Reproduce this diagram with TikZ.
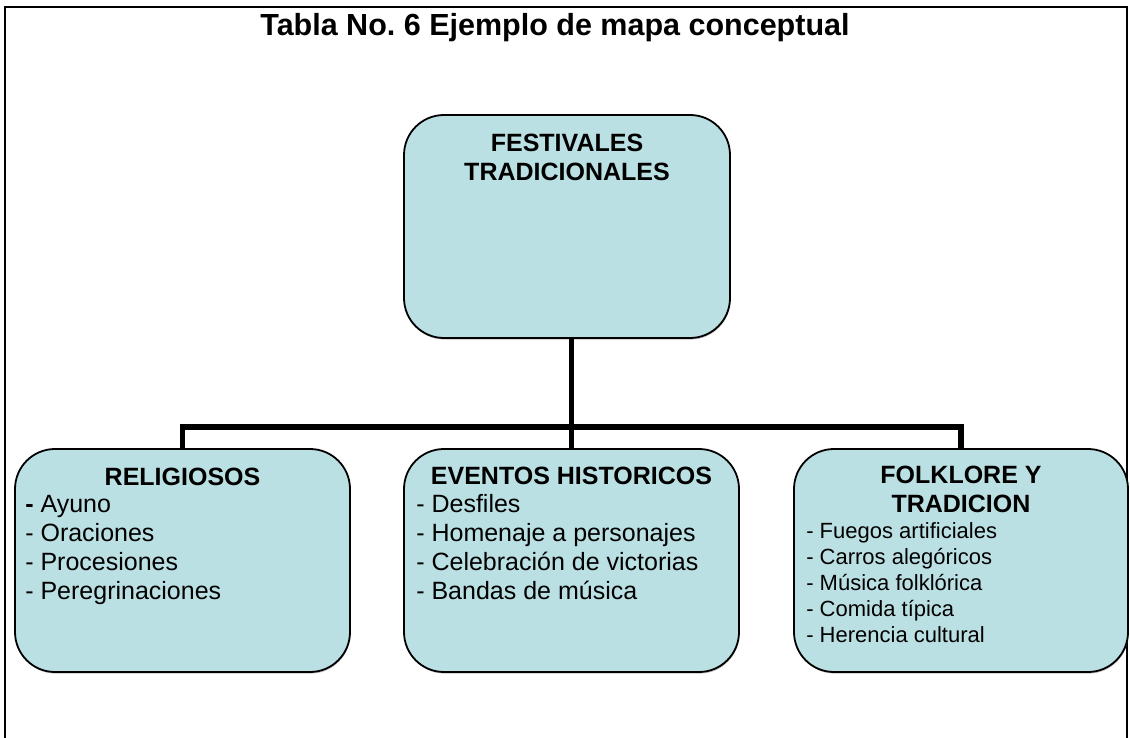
\documentclass[tikz,border=0pt]{standalone}
\usepackage{fontspec}
\setmainfont{Liberation Sans}
\usepackage{xcolor}
\usetikzlibrary{positioning, calc, shadows}
\definecolor{boxfill}{RGB}{187,224,227}

\begin{document}
\begin{tikzpicture}[
  x=1pt, y=-1pt,
  box/.style={draw, line width=1.8pt, fill=boxfill, rounded corners=40pt,
              inner sep=0pt, minimum width=335pt, minimum height=223pt,
              drop shadow={shadow xshift=0.6pt, shadow yshift=-1.6pt,
                           fill=black!50}},
  head/.style={font=\fontsize{25}{29}\selectfont\bfseries, inner sep=0pt,
               align=center, anchor=north},
  items/.style={font=\fontsize{25}{29}\selectfont, inner sep=0pt,
                align=left, anchor=north west},
  smallitems/.style={items, font=\fontsize{22}{26}\selectfont},
  conn/.style={line width=5.5pt, line join=miter},
  frame/.style={line width=2.4pt}
]
  \useasboundingbox (0,0) rectangle (1130,738);

  % Frame and title
  \draw[frame] (5,738) -- (5,7) -- (1127,7) -- (1127,738);
  \node[font=\fontsize{30.5}{35}\selectfont\bfseries, anchor=base] (title)
    at (555,36) {Tabla No.\ 6 Ejemplo de mapa conceptual};

  % Boxes
  \node[box, minimum width=326pt] (fest) at (567,226.5) {};
  \node[box] (rel)  at (182.5,560.5) {};
  \node[box] (hist) at (571.5,560.5) {};
  \node[box, minimum width=334pt] (folk) at (961,560.5) {};

  % Edges
  \coordinate (bus) at (571.5,427);
  \draw[conn] (hist.north |- fest.south) -- (hist.north);
  \draw[conn] (rel.north) -- (rel.north |- bus) -- (folk.north |- bus)
    -- (folk.north);

  % Texts
  \node[head] (festh) at ([yshift=-16.7pt]fest.north)
    {\strut FESTIVALES\\TRADICIONALES};

  \node[head] (relh) at ([yshift=-16.7pt]rel.north) {\strut RELIGIOSOS};
  \node[items] (reli) at ([xshift=11pt, yshift=-44.2pt]rel.north west)
    {\strut\textbf{-} Ayuno\\- Oraciones\\- Procesiones\\- Peregrinaciones};

  \node[head] (histh) at ([yshift=-16pt]hist.north)
    {\strut EVENTOS HISTORICOS};
  \node[items] (histi) at ([xshift=13pt, yshift=-43.7pt]hist.north west)
    {\strut - Desfiles\\- Homenaje a personajes\\- Celebración de victorias\\- Bandas de música};

  \node[head] (folkh) at ([yshift=-15.3pt]folk.north)
    {\strut FOLKLORE Y\\TRADICION};
  \node[smallitems] (folki) at ([xshift=13pt, yshift=-71.5pt]folk.north west)
    {\strut - Fuegos artificiales\\- Carros alegóricos\\- Música folklórica\\- Comida típica\\- Herencia cultural};
\end{tikzpicture}
\end{document}
